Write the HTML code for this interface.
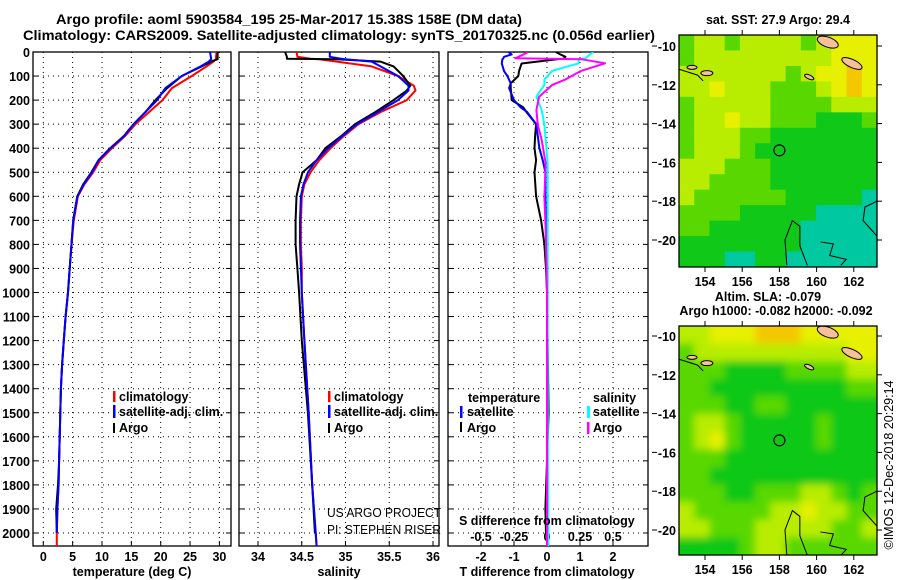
<!DOCTYPE html>
<html><head><meta charset="utf-8"><style>
html,body{margin:0;padding:0;background:#fff;}
svg{display:block;font-family:"Liberation Sans",Arial,sans-serif;}
.b{font-weight:bold;font-size:12.5px;fill:#000;}
.t{font-weight:bold;font-size:13.5px;fill:#000;}
</style></head><body>
<svg id="fig" width="900" height="580" viewBox="0 0 900 580" xmlns="http://www.w3.org/2000/svg">
<defs>
<clipPath id="c1"><rect x="33" y="52" width="198" height="494"/></clipPath>
<clipPath id="c2"><rect x="239" y="52" width="200" height="494"/></clipPath>
<clipPath id="c3"><rect x="448" y="52" width="200" height="494"/></clipPath>
<clipPath id="m1c"><rect x="679" y="35" width="198" height="232"/></clipPath>
<clipPath id="m2c"><rect x="679" y="326" width="198" height="229"/></clipPath>
<filter id="bl" x="-5%" y="-5%" width="110%" height="110%"><feGaussianBlur stdDeviation="4"/></filter>
</defs>
<text class="t" x="56" y="24" textLength="466" lengthAdjust="spacingAndGlyphs">Argo profile: aoml 5903584_195 25-Mar-2017 15.38S 158E (DM data)</text>
<text class="t" x="23" y="40" textLength="632" lengthAdjust="spacingAndGlyphs">Climatology: CARS2009. Satellite-adjusted climatology: synTS_20170325.nc (0.056d earlier)</text>
<g id="axes"></g>
<g id="series"></g>
<g id="legend">
 <rect x="113" y="391" width="2.5" height="11" fill="#f00"/>
 <text class="b" x="119" y="401">climatology</text>
 <rect x="113" y="405" width="2.5" height="13" fill="#00f"/>
 <text class="b" x="119" y="416">satellite-adj. clim.</text>
 <rect x="113" y="423" width="2" height="10" fill="#000"/>
 <text class="b" x="119" y="432">Argo</text>
 <rect x="328" y="391" width="2.5" height="11" fill="#f00"/>
 <text class="b" x="334" y="401">climatology</text>
 <rect x="328" y="405" width="2.5" height="13" fill="#00f"/>
 <text class="b" x="334" y="416">satellite-adj. clim.</text>
 <rect x="328" y="423" width="2" height="10" fill="#000"/>
 <text class="b" x="334" y="432">Argo</text>
 <text class="b" x="468" y="402">temperature</text>
 <text class="b" x="593" y="402">salinity</text>
 <rect x="460" y="406" width="2.5" height="12" fill="#00f"/>
 <text class="b" x="467" y="416">satellite</text>
 <rect x="460" y="422" width="2" height="10" fill="#000"/>
 <text class="b" x="467" y="432">Argo</text>
 <rect x="587" y="406" width="3" height="12" fill="#0ff"/>
 <text class="b" x="593" y="416">satellite</text>
 <rect x="587" y="422" width="2.5" height="12" fill="#f0f"/>
 <text class="b" x="593" y="432">Argo</text>
</g>
<text x="327" y="517" font-size="13" fill="#000" textLength="114" lengthAdjust="spacingAndGlyphs">US ARGO PROJECT</text>
<text x="327" y="534" font-size="13" fill="#000" textLength="114" lengthAdjust="spacingAndGlyphs">PI: STEPHEN RISER</text>
<text class="b" x="459" y="525">S difference from climatology</text>
<text class="b" x="132" y="576" text-anchor="middle">temperature (deg C)</text>
<text class="b" x="339" y="576" text-anchor="middle">salinity</text>
<text class="b" x="547" y="576" text-anchor="middle">T difference from climatology</text>
<text class="b" x="778" y="24" text-anchor="middle">sat. SST: 27.9 Argo: 29.4</text>
<text class="b" x="768" y="301" text-anchor="middle">Altim. SLA: -0.079</text>
<text class="b" x="776" y="315" text-anchor="middle">Argo h1000: -0.082 h2000: -0.092</text>
<g id="maps"></g>
<text x="893" y="465" font-size="12.5" text-anchor="middle" transform="rotate(-90 893 465)">©IMOS 12-Dec-2018 20:29:14</text>
</svg>
<script>
// ---------- data ----------
const depthTicks=[0,100,200,300,400,500,600,700,800,900,1000,1100,1200,1300,1400,1500,1600,1700,1800,1900,2000];
const tempTicks=[0,5,10,15,20,25,30];
const salTicks=[34,34.5,35,35.5,36];
const tdiffTicks=[-2,-1,0,1,2];
const sdiffTicks=[-0.5,-0.25,0,0.25,0.5];
const sdiffLabels=["-0.5","-0.25","0","0.25","0.5"];

const tDepth=[0,30,40,60,100,150,200,250,300,350,400,450,500,550,600,700,800,900,1000,1100,1200,1300,1400,1500,1600,1700,1800,1900,2000,2055];
const tArgo=[29.7,29.7,28.6,27.0,23.6,21.1,19.1,17.4,15.4,13.7,11.4,9.4,8.2,6.8,5.8,5.1,4.8,4.5,4.2,3.8,3.5,3.2,3.0,2.9,2.8,2.7,2.5,2.2,2.3,null];
const tClim=[29.5,29.4,29.0,27.8,25.3,21.9,20.3,18.0,15.7,13.9,11.7,9.7,8.5,7.0,5.9,5.2,4.8,4.5,4.2,3.8,3.5,3.2,3.0,2.9,2.8,2.7,2.6,2.4,2.3,2.3];
const tSat=[28.4,28.6,28.2,26.8,23.6,20.8,19.4,17.4,15.4,13.7,11.4,9.4,8.3,6.9,5.8,5.1,4.8,4.5,4.2,3.8,3.5,3.2,3.0,2.9,2.8,2.7,2.6,2.4,2.3,null];

const sDepth=[0,20,28,30,40,60,100,140,160,200,250,300,350,400,450,500,550,600,700,800,900,1000,1200,1500,1800,2000,2055];
const sArgo=[34.31,34.33,34.33,34.9,35.4,35.55,35.66,35.74,35.7,35.55,35.34,35.11,34.95,34.77,34.67,34.51,34.47,34.44,34.43,34.43,34.45,34.47,34.50,34.57,34.62,34.65,null];
const sClim=[34.44,34.45,34.6,34.7,34.9,35.3,35.6,35.78,35.8,35.7,35.4,35.15,34.98,34.83,34.7,34.6,34.53,34.5,34.49,34.49,34.5,34.5,34.53,34.58,34.62,34.66,34.67];
const sSat=[34.82,34.82,34.95,35.0,35.3,35.4,35.6,35.72,35.72,35.6,35.37,35.13,34.96,34.8,34.67,34.57,34.52,34.49,34.48,34.48,34.49,34.5,34.53,34.58,34.62,34.66,34.67];

const dtDepth=[0,10,20,28,30,48,80,100,130,150,200,230,250,300,350,400,450,500,600,700,800,900,1000,1500,1900,2000,2055];
const dtArgo=[0.27,0.4,0.56,0.5,0.3,-0.77,-0.85,-0.87,-1.1,-1.1,-1.07,-0.72,-0.62,-0.33,-0.36,-0.38,-0.33,-0.38,-0.33,-0.18,-0.08,-0.03,0,0.05,-0.05,-0.03,null];
const dtSat=[-1.17,-1.07,-1.3,-1.33,-1.35,-1.37,-1.3,-1.2,-1.1,-1.15,-1.0,-0.8,-0.6,-0.33,-0.28,-0.23,-0.13,-0.05,-0.05,-0.03,-0.02,0,0,0,0,0,0];
const dsDepth=[0,26,30,47,78,114,137,186,241,303,366,463,602,740,1000,1500,2000,2055];
const dsArgo=[-0.14,-0.24,0.26,0.44,0.26,0.14,0.04,-0.06,-0.08,-0.07,-0.04,-0.01,-0.02,-0.01,0,0,0,0];
const dsSat=[0.35,0.29,0.24,0.24,0.04,-0.02,-0.02,-0.08,-0.04,-0.02,-0.01,0.005,0.005,0.005,0.005,0.005,0.01,0.01];

const sstGrid=[
[2,3,3,2,3,3,3,3,2,3,4,4,4],
[2,3,3,3,3,3,3,3,3,3,4,4,4],
[3,3,3,3,3,3,3,2,3,4,4,5,4],
[3,3,4,3,3,3,2,2,2,3,4,5,4],
[2,3,3,3,3,3,2,2,2,2,3,3,3],
[2,3,3,4,3,3,2,2,2,1,1,1,2],
[2,3,3,3,2,2,1,1,1,1,1,1,1],
[2,3,3,3,2,1,1,1,1,1,1,1,1],
[3,3,3,2,2,2,1,1,1,1,1,1,1],
[3,3,2,2,2,2,1,1,1,1,1,1,1],
[3,2,2,2,2,2,2,1,1,1,1,1,0],
[2,2,2,2,1,1,1,1,1,0,0,0,0],
[2,2,1,1,1,1,1,1,0,0,0,0,0],
[1,1,1,1,1,1,1,1,0,0,0,0,0],
[1,1,1,0,0,1,1,0,0,0,0,0,0]];
const slaGrid=[
[3,3,4,4,4,5,5,5,4,4,4,4,4],
[2,3,3,3,3,3,3,3,3,3,3,4,4],
[2,2,2,1,1,1,1,2,2,2,2,3,3],
[2,2,1,1,1,1,1,1,1,1,1,2,2],
[2,2,2,1,1,2,2,1,1,1,1,1,1],
[2,3,3,2,1,1,1,1,1,2,1,1,1],
[2,3,4,2,1,1,1,1,1,2,1,1,1],
[2,2,2,1,1,1,1,1,1,1,1,1,1],
[2,2,1,1,1,1,1,1,1,1,1,1,1],
[2,2,2,1,1,2,2,2,3,3,2,1,2],
[3,2,2,2,2,2,3,3,4,3,3,2,2],
[3,3,2,2,2,3,3,3,3,3,2,2,3],
[1,1,1,1,2,3,3,2,2,2,2,2,2]];
const lonTicks=[154,156,158,160,162];
const latTicks=[-10,-12,-14,-16,-18,-20];
const argoLon=[158.0];
const argoLat=[-15.38];

// ---------- helpers ----------
const NS="http://www.w3.org/2000/svg";
function mk(tag,attrs,parent){const e=document.createElementNS(NS,tag);for(const k in attrs)e.setAttribute(k,attrs[k]);parent.appendChild(e);return e;}
const yD=d=>52+d*0.2405;
const panels=[
 {x0:33,x1:231,sx:v=>43.3+v*5.87,ticks:tempTicks,labels:tempTicks.map(String),ylab:true,name:'temperature'},
 {x0:239,x1:439,sx:v=>258+(v-34)*87.5,ticks:salTicks,labels:salTicks.map(String),ylab:false,name:'salinity'},
 {x0:448,x1:648,sx:v=>547+v*33,ticks:tdiffTicks,labels:tdiffTicks.map(String),ylab:false,name:'tdiff'}];
const sxS=v=>547+v*132;
const axes=document.getElementById('axes');
panels.forEach(p=>{
 const g=mk('g',{},axes);
 
 
 p.ticks.forEach((t,i)=>{
  const x=p.sx(t);
  const l=mk('line',{x1:x,x2:x,y1:52,y2:546,stroke:'#000','stroke-width':1,'stroke-dasharray':'1,4'},g);
  
  
  mk('line',{x1:x,x2:x,y1:546,y2:541,stroke:'#000'},g);
  const tx=mk('text',{x:x,y:561,'text-anchor':'middle',class:'b'},g);
  tx.textContent=p.labels[i];
  
  
 });
 depthTicks.forEach(d=>{
  const y=yD(d);
  const l=mk('line',{x1:p.x0,x2:p.x1,y1:y,y2:y,stroke:'#000','stroke-width':1,'stroke-dasharray':'1,4'},g);
  
  
  mk('line',{x1:p.x0,x2:p.x0+5,y1:y,y2:y,stroke:'#000'},g);
  mk('line',{x1:p.x1,x2:p.x1-5,y1:y,y2:y,stroke:'#000'},g);
  if(p.ylab){const tx=mk('text',{x:30,y:y+5,'text-anchor':'end',class:'b'},g);tx.textContent=String(d);
   
   }
 });
 const r=mk('rect',{x:p.x0,y:52,width:p.x1-p.x0,height:494,fill:'none',stroke:'#000','stroke-width':1.3},g);
 
 
});
sdiffTicks.forEach((t,i)=>{
 const tx=mk('text',{x:sxS(t),y:541,'text-anchor':'middle',class:'b'},axes);
 tx.textContent=sdiffLabels[i];
 
 
});
const ser=document.getElementById('series');
function line(depths,vals,sx,color,clip,name,w){
 let pts=[];
 for(let i=0;i<depths.length;i++){if(vals[i]===null||vals[i]===undefined)continue;pts.push(sx(vals[i]).toFixed(1)+','+yD(depths[i]).toFixed(1));}
 const e=mk('polyline',{points:pts.join(' '),fill:'none',stroke:color,'stroke-width':w||2,'clip-path':'url(#'+clip+')','stroke-linejoin':'round'},ser);
 
 
}
line(tDepth,tClim,panels[0].sx,'#f00','c1','temp-climatology-line');
line(tDepth,tArgo,panels[0].sx,'#000','c1','temp-argo-line');
line(tDepth,tSat,panels[0].sx,'#00f','c1','temp-satellite-line');
line(sDepth,sClim,panels[1].sx,'#f00','c2','sal-climatology-line');
line(sDepth,sArgo,panels[1].sx,'#000','c2','sal-argo-line');
line(sDepth,sSat,panels[1].sx,'#00f','c2','sal-satellite-line');
line(dtDepth,dtArgo,panels[2].sx,'#000','c3','tdiff-argo-line');
line(dtDepth,dtSat,panels[2].sx,'#00f','c3','tdiff-satellite-line');
line(dsDepth,dsSat,sxS,'#0ff','c3','sdiff-satellite-line');
line(dsDepth,dsArgo,sxS,'#f0f','c3','sdiff-argo-line');

// ---------- maps ----------
const pal=['#00c8a0','#10c818','#58d800','#b8ec00','#e6f000','#f4c800'];
const maps=document.getElementById('maps');
function drawMap(grid,y0,y1,clip,blur,name,lat10y,lat20y){
 const g=mk('g',{},maps);
 
 
 const x0=679,x1=877;
 const lonX=l=>705+(l-154)*18.6;
 const latY=l=>lat10y+(-10-l)*(lat20y-lat10y)/10;
 const inner=mk('g',{'clip-path':'url(#'+clip+')'},g);
 const cells=mk('g',blur?{filter:'url(#bl)'}:{},inner);
 const nr=grid.length,nc=grid[0].length,cw=(x1-x0)/nc,ch=(y1-y0)/nr;
 grid.forEach((row,r)=>row.forEach((v,c)=>{
  const ex=blur?(c===0?-10:0):0, ey=blur?(r===0?-10:0):0;
  const rc=mk('rect',{x:x0+c*cw+ex,y:y0+r*ch+ey,width:cw+0.6-ex+(blur&&c===nc-1?10:0),height:ch+0.6-ey+(blur&&r===nr-1?10:0),fill:pal[v]},cells);
  
  
 }));
 const land=mk('g',{fill:'#f5c09a',stroke:'#000','stroke-width':1},inner);
 
 
 mk('ellipse',{cx:lonX(160.6),cy:latY(-9.8),rx:11,ry:5,transform:'rotate(20 '+lonX(160.6)+' '+latY(-9.8)+')'},land);
 mk('ellipse',{cx:lonX(161.9),cy:latY(-10.9),rx:11,ry:4,transform:'rotate(25 '+lonX(161.9)+' '+latY(-10.9)+')'},land);
 mk('ellipse',{cx:lonX(159.6),cy:latY(-11.6),rx:5,ry:2,transform:'rotate(25 '+lonX(159.6)+' '+latY(-11.6)+')'},land);
 mk('ellipse',{cx:lonX(154.1),cy:latY(-11.4),rx:6,ry:2.5},land);
 mk('ellipse',{cx:lonX(153.3),cy:latY(-11.1),rx:5,ry:2},land);
 const cst=mk('g',{fill:'none',stroke:'#000','stroke-width':1},inner);
 
 
 mk('path',{d:`M${lonX(158.4)} ${latY(-21.3)} L${lonX(158.3)} ${latY(-20)} L${lonX(158.7)} ${latY(-19)} L${lonX(159.1)} ${latY(-19.3)} L${lonX(159.1)} ${latY(-20.3)} L${lonX(159.5)} ${latY(-21.3)}`},cst);
 mk('path',{d:`M${lonX(160.2)} ${latY(-20.1)} L${lonX(160.9)} ${latY(-20.2)} L${lonX(160.7)} ${latY(-20.8)} L${lonX(161.6)} ${latY(-21.0)} L${lonX(161.3)} ${latY(-21.3)}`},cst);
 mk('path',{d:`M${x1} ${latY(-18)} L${lonX(162.6)} ${latY(-18.3)} L${lonX(162.5)} ${latY(-19)} L${x1} ${latY(-19.8)}`},cst);
 mk('path',{d:`M${x0} ${latY(-11.2)} L${lonX(153.6)} ${latY(-11.5)} L${lonX(153.9)} ${latY(-11.8)}`},cst);
 argoLon.forEach((lo,i)=>{
  const c=mk('circle',{cx:lonX(lo),cy:latY(argoLat[i]),r:5.5,fill:'none',stroke:'#000','stroke-width':1.2},g);
  
  
 });
 const fr=mk('rect',{x:x0,y:y0,width:x1-x0,height:y1-y0,fill:'none',stroke:'#000','stroke-width':1.3},g);
 
 
 lonTicks.forEach(l=>{
  const x=lonX(l);
  mk('line',{x1:x,x2:x,y1:y0,y2:y0-5,stroke:'#000'},g);
  mk('line',{x1:x,x2:x,y1:y1,y2:y1+5,stroke:'#000'},g);
  const t=mk('text',{x:x,y:y1+19,'text-anchor':'middle',class:'b'},g);t.textContent=String(l);
  
  
 });
 latTicks.forEach(l=>{
  const y=latY(l);
  mk('line',{x1:652,x2:657,y1:y,y2:y,stroke:'#000'},g);
  mk('line',{x1:x1,x2:x1+5,y1:y,y2:y,stroke:'#000'},g);
  const t=mk('text',{x:676,y:y+5,'text-anchor':'end',class:'b'},g);t.textContent=String(l);
  
  
 });
}
drawMap(sstGrid,35,267,'m1c',false,'sst-map',46,240);
drawMap(slaGrid,326,555,'m2c',true,'sla-map',336,530);
</script>
</body></html>
